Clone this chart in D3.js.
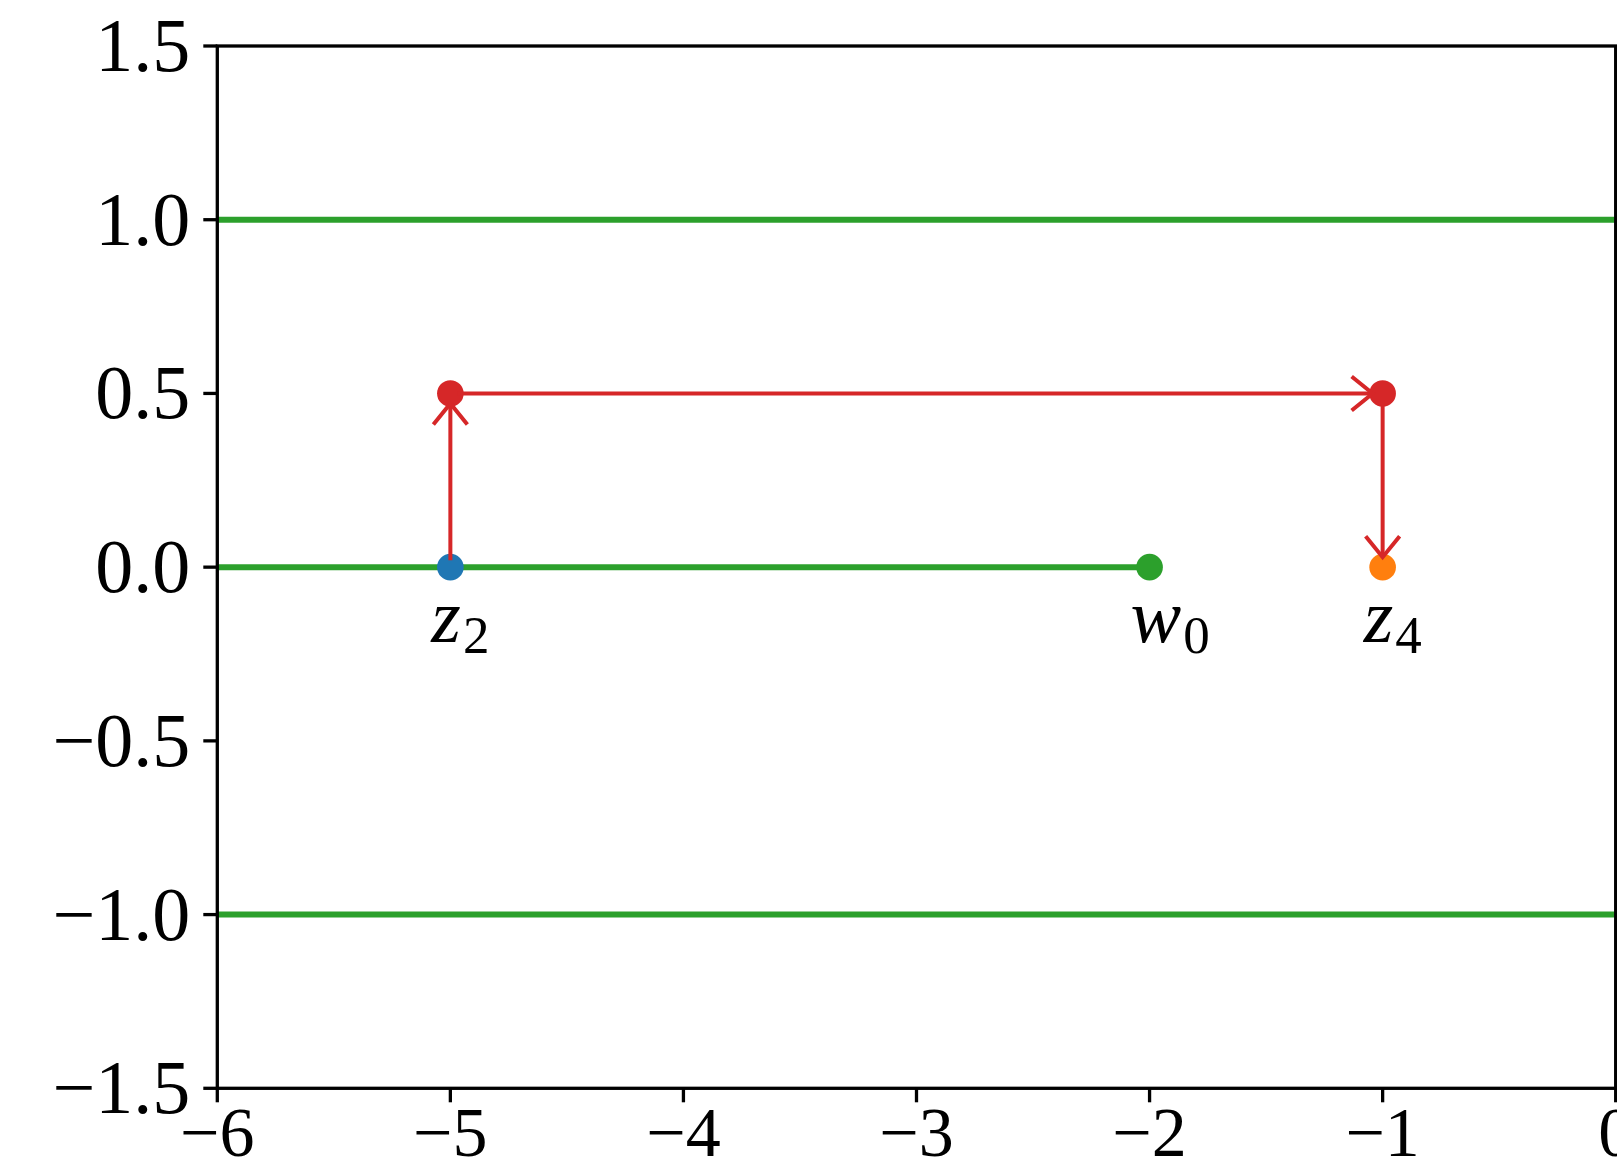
<!DOCTYPE html>
<html>
<head>
<meta charset="utf-8">
<script src="https://cdn.jsdelivr.net/npm/d3@7"></script>
<style>
    html, body { margin: 0; padding: 0; background: #fff; }
    svg { display: block; }
</style>
</head>
<body>
<div id="chart"></div>
<script>
// Tick values
var xTicks = [-6, -5, -4, -3, -2, -1, 0];
var yTicks = [-1.5, -1.0, -0.5, 0.0, 0.5, 1.0, 1.5];

// Green horizontal lines (full width) and the half line ending at w0
var fullLinesY = [1, -1];
var halfLine = [[-6, 0], [-2, 0]];

// Points
var pointNames = ['z2', 'w0', 'z4', 'a', 'b'];
var pointX = [-5, -2, -1, -5, -1];
var pointY = [0, 0, 0, 0.5, 0.5];
var pointColors = ['#1f77b4', '#2ca02c', '#ff7f0e', '#d62728', '#d62728'];

// Arrows (from -> to)
var arrowFrom = [[-5, 0], [-5, 0.5], [-1, 0.5]];
var arrowTo = [[-5, 0.5], [-1, 0.5], [-1, 0]];

// Labels under the points
var labelBase = ['z', 'w', 'z'];
var labelSub = ['2', '0', '4'];
var labelX = [-5, -2, -1];
var labelY = [0, 0, 0];

var width = 1617, height = 1175;
var fontFamily = '"Liberation Serif", "DejaVu Serif", serif';

var svg = d3.select('#chart')
    .append('svg')
    .attr('width', width)
    .attr('height', height);

var x = d3.scaleLinear().domain([-6, 0]).range([217.3, 1615.7]);
var y = d3.scaleLinear().domain([-1.5, 1.5]).range([1088.3, 46]);

var green = '#2ca02c', red = '#d62728';

// Green lines
svg.selectAll('.hline')
    .data(fullLinesY)
    .enter()
    .append('line')
    .attr('class', 'hline')
    .attr('x1', x(-6))
    .attr('x2', x(0))
    .attr('y1', function (d) { return y(d); })
    .attr('y2', function (d) { return y(d); })
    .attr('stroke', green)
    .attr('stroke-width', 6);

svg.append('path')
    .attr('d', d3.line().x(function (d) { return x(d[0]); }).y(function (d) { return y(d[1]); })(halfLine))
    .attr('stroke', green)
    .attr('stroke-width', 6)
    .attr('fill', 'none');

// Points
svg.selectAll('.pt')
    .data(pointNames)
    .enter()
    .append('circle')
    .attr('class', 'pt')
    .attr('cx', function (d, i) { return x(pointX[i]); })
    .attr('cy', function (d, i) { return y(pointY[i]); })
    .attr('r', 13.3)
    .attr('fill', function (d, i) { return pointColors[i]; });

// Arrow head marker (open "->" style)
svg.append('defs')
    .append('marker')
    .attr('id', 'arrowhead')
    .attr('markerUnits', 'userSpaceOnUse')
    .attr('markerWidth', 60)
    .attr('markerHeight', 60)
    .attr('viewBox', '-30 -30 60 60')
    .attr('refX', 0)
    .attr('refY', 0)
    .attr('orient', 'auto')
    .append('path')
    .attr('d', 'M-21,-17 L0,0 L-21,17')
    .attr('fill', 'none')
    .attr('stroke', red)
    .attr('stroke-width', 4);

// Arrows, shrunk a little at both ends
svg.selectAll('.arrow')
    .data(arrowFrom)
    .enter()
    .append('line')
    .attr('class', 'arrow')
    .each(function (d, i) {
        var x1 = x(d[0]), y1 = y(d[1]);
        var x2 = x(arrowTo[i][0]), y2 = y(arrowTo[i][1]);
        var len = Math.hypot(x2 - x1, y2 - y1);
        var ux = (x2 - x1) / len, uy = (y2 - y1) / len;
        d3.select(this)
            .attr('x1', x1 + ux * 7)
            .attr('y1', y1 + uy * 7)
            .attr('x2', x2 - ux * 10)
            .attr('y2', y2 - uy * 10);
    })
    .attr('stroke', red)
    .attr('stroke-width', 4)
    .attr('marker-end', 'url(#arrowhead)');

// Point labels
var labels = svg.selectAll('.lbl')
    .data(labelBase)
    .enter()
    .append('text')
    .attr('class', 'lbl')
    .attr('x', function (d, i) { return x(labelX[i]) - 19; })
    .attr('y', function (d, i) { return y(labelY[i]) + 75; })
    .attr('font-family', fontFamily)
    .attr('font-size', 76)
    .attr('fill', '#000');

labels.append('tspan')
    .attr('font-style', 'italic')
    .text(function (d) { return d; });

labels.append('tspan')
    .attr('font-size', 53)
    .attr('dy', 11)
    .attr('dx', 2)
    .text(function (d, i) { return labelSub[i]; });

// Axes frame
var frame = svg.append('g').attr('stroke', '#000').attr('stroke-width', 3.3);
frame.append('rect')
    .attr('x', x(-6))
    .attr('y', y(1.5))
    .attr('width', x(0) - x(-6))
    .attr('height', y(-1.5) - y(1.5))
    .attr('fill', 'none');

// Ticks
function fmtY(v) {
    var s = v.toFixed(1);
    return v < 0 ? '\u2212' + s.slice(1) : s;
}
function fmtX(v) {
    return v < 0 ? '\u2212' + String(-v) : String(v);
}

svg.selectAll('.ytick')
    .data(yTicks)
    .enter()
    .append('line')
    .attr('x1', x(-6) - 14)
    .attr('x2', x(-6))
    .attr('y1', function (d) { return y(d); })
    .attr('y2', function (d) { return y(d); })
    .attr('stroke', '#000')
    .attr('stroke-width', 3.3);

svg.selectAll('.ylabel')
    .data(yTicks)
    .enter()
    .append('text')
    .attr('x', x(-6) - 27)
    .attr('y', function (d) { return y(d) + 25; })
    .attr('text-anchor', 'end')
    .attr('font-family', fontFamily)
    .attr('font-size', 76)
    .attr('fill', '#000')
    .text(fmtY);

svg.selectAll('.xtick')
    .data(xTicks)
    .enter()
    .append('line')
    .attr('x1', function (d) { return x(d); })
    .attr('x2', function (d) { return x(d); })
    .attr('y1', y(-1.5))
    .attr('y2', y(-1.5) + 14)
    .attr('stroke', '#000')
    .attr('stroke-width', 3.3);

svg.selectAll('.xlabel')
    .data(xTicks)
    .enter()
    .append('text')
    .attr('x', function (d) { return x(d); })
    .attr('y', y(-1.5) + 68)
    .attr('text-anchor', 'middle')
    .attr('font-family', fontFamily)
    .attr('font-size', 70)
    .attr('fill', '#000')
    .text(fmtX);
</script>
</body>
</html>
